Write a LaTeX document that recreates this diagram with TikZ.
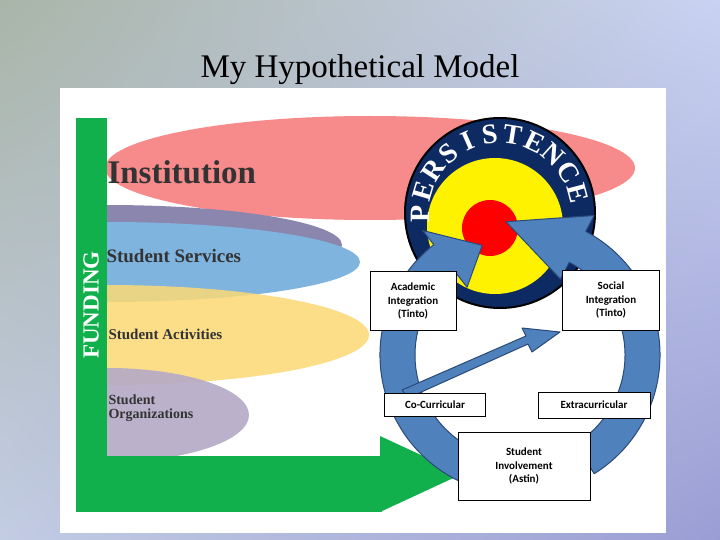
\documentclass[tikz,border=0pt]{standalone}
\usepackage{fontspec}
\setmainfont{Liberation Serif}
\newfontfamily\boxfont{Carlito}
\usetikzlibrary{shadings}
\definecolor{bgA}{HTML}{A9B5A8}
\definecolor{bgB}{HTML}{C9D2F2}
\definecolor{bgC}{HTML}{9A9DD4}
\definecolor{fgreen}{HTML}{12B04C}
\definecolor{fred}{HTML}{F78B8B}
\definecolor{fpurple}{HTML}{8A86AE}
\definecolor{fblue}{HTML}{7FB4DE}
\definecolor{fyellow}{HTML}{FCD975}
\definecolor{fgray}{HTML}{B4A9C6}
\definecolor{navy}{HTML}{0E2A63}
\definecolor{arrblue}{HTML}{4F81BD}
\definecolor{arredge}{HTML}{2B4A78}
\tikzset{
  lbl/.style={draw=black, line width=0.6pt, fill=white, align=center, font=\boxfont\bfseries\fontsize{11}{13.5}\selectfont, inner sep=2pt},
  bigarrow/.style={fill=arrblue, draw=arredge, line width=1pt, line join=round},
  layer/.style={font=\bfseries, anchor=west, align=left},
  pletter/.style={font=\bfseries\fontsize{28}{28}\selectfont, text=white, inner sep=0pt}
}
\begin{document}
\begin{tikzpicture}[x=1pt,y=-1pt]
\useasboundingbox (0,0) rectangle (720,540);
\begin{scope}[y=1pt]
\shade[upper left=bgA, upper right=bgB, lower left=bgB!80!bgA, lower right=bgC] (0,-540) rectangle (720,0);
\end{scope}
\fill[white] (60,88) rectangle (666,533);
\node[font=\fontsize{33}{36}\selectfont] (title) at (360,70) {My Hypothetical Model};
% bands
\begin{scope}
\clip (76,88) rectangle (666,533);
\fill[fred] (370,168) ellipse[x radius=265, y radius=52];
\fill[fpurple] (107,245) ellipse[x radius=235, y radius=40];
\fill[fblue] (107,262) ellipse[x radius=253, y radius=40];
\fill[fyellow, opacity=0.85] (107,335) ellipse[x radius=262, y radius=50];
\fill[fgray, opacity=0.9] (107,415) ellipse[x radius=142, y radius=47];
\end{scope}
% green L
\fill[fgreen] (76,118) rectangle (107,512);
\fill[fgreen] (76,456) rectangle (382,512);
\fill[fgreen] (380,436) -- (462,474) -- (380,512) -- cycle;
\node[rotate=90, font=\bfseries\fontsize{23}{24}\selectfont, text=white] (fund) at (91,305) {FUNDING};
% texts
\node[layer, font=\bfseries\fontsize{33}{35}\selectfont, text=black!80] (inst) at (104,172) {Institution};
\node[layer, font=\bfseries\fontsize{19}{21}\selectfont, text=black!80] (ss) at (103,256) {Student Services};
\node[layer, font=\bfseries\fontsize{15}{17}\selectfont, text=black!80] (sa) at (105,334) {Student Activities};
\node[layer, font=\bfseries\fontsize{14}{15}\selectfont, text=black!80] (so) at (105,408) {Student\\[-1pt]Organizations};
% target
\fill[navy, draw=black, line width=2pt] (500,213) circle (95);
\fill[yellow] (495,226) circle (68);
\fill[red] (490,228) circle (28);
\foreach \ch [count=\i] in {P,E,R,S,I,S,T,E,N,C,E} {
  \pgfmathsetmacro\ang{180-(\i-1)*16.5}
  \node[pletter, rotate=\ang-90] (p\i) at ([shift={(-\ang:80)}]500,214) {\ch};
}
% big ring arrows
\begin{scope}[shift={(520,355)}]
\path[bigarrow] (-250:140) arc[start angle=-250, end angle=-128, radius=140]
  -- (-128:158) -- (-109:116) -- (-128:86) -- (-128:105)
  arc[start angle=-128, end angle=-250, radius=105] -- cycle;
\path[bigarrow] (58:140) arc[start angle=58, end angle=-62, radius=140]
  -- (-62:158) -- (-96:134) -- (-62:86) -- (-62:105)
  arc[start angle=-62, end angle=58, radius=105] -- cycle;
\end{scope}
% small arrow
\path[bigarrow] (408,398) -- (528,344) -- (532,352) -- (560,332) -- (522,328) -- (526,336) -- (402,390) -- cycle;
% boxes
\node[lbl, minimum width=86, minimum height=59] (acad) at (413,301) {Academic\\Integration\\(Tinto)};
\node[lbl, minimum width=97, minimum height=60] (soc) at (611,300) {Social\\Integration\\(Tinto)};
\node[lbl, minimum width=101, minimum height=23] (co) at (435,405) {Co-Curricular};
\node[lbl, minimum width=112, minimum height=26] (extra) at (594,405) {Extracurricular};
\node[lbl, minimum width=132, minimum height=68] (inv) at (524,466) {Student\\Involvement\\(Astin)};
\end{tikzpicture}
\end{document}
